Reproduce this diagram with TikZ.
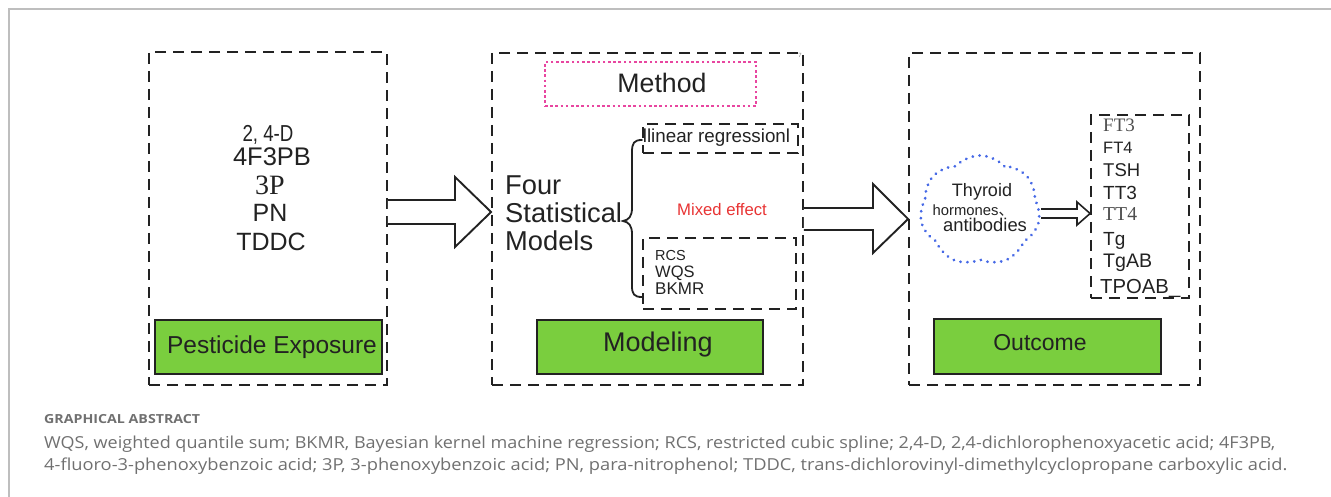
\documentclass[tikz,border=0pt]{standalone}
\usepackage{fontspec}
\setmainfont{Liberation Sans}
\newfontfamily\serifb{Liberation Serif}
\newfontfamily\capfont{Open Sans}
\newfontfamily\cjk{Noto Sans CJK SC}
\usetikzlibrary{shapes.symbols}
\definecolor{gbox}{RGB}{122,206,62}
\definecolor{dk}{RGB}{34,34,34}
\definecolor{pinkdot}{RGB}{232,70,160}
\definecolor{bluedot}{RGB}{70,105,230}
\definecolor{redtxt}{RGB}{232,52,52}
\definecolor{captxt}{RGB}{112,112,112}
\definecolor{framegray}{RGB}{190,190,190}
\newcommand{\fs}[1]{\fontsize{#1}{#1}\selectfont}
\begin{document}
\begin{tikzpicture}[x=1pt,y=-1pt,
  dbox/.style={draw=dk,line width=1.8pt,dash pattern=on 11pt off 7pt,inner sep=0pt},
  gbx/.style={draw=dk,fill=gbox,line width=1.6pt,inner sep=0pt},
  txt/.style={inner sep=0pt,text=dk},
  blk/.style={draw=dk,line width=1.9pt,fill=white,line join=miter},
  captext/.style={inner sep=0pt,text=captxt,anchor=base west}]
\useasboundingbox (0,0) rectangle (1331,497);
% outer frame
\draw[framegray,line width=1.5pt] (9,497) -- (9,9) -- (1331,9);
% ---- left panel
\node[dbox,minimum width=238pt,minimum height=333pt] (left) at (268,218.5) {};
\node[gbx,minimum width=227pt,minimum height=54pt] (pest) at (268.5,347) {};
\node[txt] (pestt) at (272,347) {\fs{24.5}Pesticide Exposure};
\node[txt] (d24) at (268,135) {\scalebox{0.85}[1.05]{\fs{22}2, 4-D}};
\node[txt] (f3pb) at (272,157) {\fs{25.5}4F3PB};
\node[txt] (p3) at (270,185) {\serifb\fs{28}3P};
\node[txt] (pn) at (270,213) {\fs{25}PN};
\node[txt] (tddc) at (271,242) {\fs{25}TDDC};
% ---- middle panel
\node[dbox,minimum width=311pt,minimum height=332pt] (mid) at (647.5,219) {};
\node[draw=pinkdot,line width=2.8pt,dash pattern=on 2.6pt off 2.6pt,minimum width=211pt,minimum height=44pt,inner sep=0pt] (meth) at (650.5,84) {};
\node[txt] (metht) at (662,83) {\fs{26.7}Method};
\node[txt,anchor=west,align=left,font=\fontsize{27.3}{28}\selectfont] (four) at (505,213) {Four\\Statistical\\Models};
\node[dbox,minimum width=155pt,minimum height=29pt] (lin) at (720.5,138.5) {};
\node[txt] (lint) at (716.5,138) {\fs{18.8}llinear regressionl};
\node[inner sep=0pt,text=redtxt] (mix) at (722,210) {\fs{16.7}Mixed effect};
\node[dbox,minimum width=153pt,minimum height=71pt] (rcs) at (719.5,273.5) {};
\node[txt,anchor=west] (rcst) at (655,256) {\fs{14.5}RCS};
\node[txt,anchor=west] (wqst) at (655,273) {\fs{16.5}WQS};
\node[txt,anchor=west] (bkmrt) at (655,289) {\fs{17}BKMR};
\node[gbx,minimum width=226pt,minimum height=54pt] (model) at (650,347) {};
\node[txt] (modelt) at (658,345) {\fs{27}Modeling};
\node[inner sep=0pt,text=gray] (seven) at (800,55) {\fs{6}7};
% brace
\draw[dk,line width=1.8pt,line cap=round] (642,140) .. controls (634,140) and (632,143) .. (632,152)
  -- (632,208) .. controls (632,216) and (629,220) .. (623,221)
  .. controls (629,222) and (632,226) .. (632,234)
  -- (632,286) .. controls (632,294) and (634,297) .. (642,297);
% ---- right panel
\node[dbox,minimum width=291pt,minimum height=332pt] (right) at (1054.5,219) {};
\node[cloud,cloud puffs=7,cloud puff arc=95,aspect=1.05,draw=bluedot,line width=3pt,line cap=round,dash pattern=on 0.1pt off 6.8pt,minimum width=120pt,minimum height=110pt,inner sep=0pt] (cloud) at (980,210.5) {};
\node[txt] (thy) at (982,192) {\fs{18}Thyroid};
\node[txt] (horm) at (973,211) {\fs{14.8}hormones{\cjk 、}};
\node[txt] (anti) at (985,225) {\fs{18.4}antibodies};
\node[dbox,minimum width=98pt,minimum height=183pt] (list) at (1140,206.5) {};
\node[txt,anchor=west,text=dk!80] (ft3) at (1103,125) {\serifb\fs{19}FT3};
\node[txt,anchor=west] (ft4) at (1103,148) {\fs{16.5}FT4};
\node[txt,anchor=west] (tsh) at (1103,170) {\fs{18.5}TSH};
\node[txt,anchor=west] (tt3) at (1103,193) {\fs{19}TT3};
\node[txt,anchor=west,text=dk!80] (tt4) at (1103,214) {\serifb\fs{19.7}TT4};
\node[txt,anchor=west] (tg) at (1103,241) {\fs{19}Tg};
\node[txt,anchor=west] (tgab) at (1103,263) {\fs{19.6}TgAB};
\node[txt,anchor=west] (tpoab) at (1100,288) {\fs{20.3}TPOAB\_};
\node[gbx,minimum width=227pt,minimum height=55pt] (out) at (1047.5,346.5) {};
\node[txt] (outt) at (1040,343) {\fs{23}Outcome};
% ---- block arrows
\coordinate (a1s) at (left.east |- 0,212);
\coordinate (a1e) at (mid.west |- 0,212);
\draw[blk] (a1s |- 0,200) -- (455,200) -- (455,177) -- (a1e) -- (455,247) -- (455,224) -- (a1s |- 0,224);
\coordinate (a2s) at (mid.east |- 0,219);
\coordinate (a2e) at (right.west |- 0,219);
\draw[blk] (a2s |- 0,208) -- (873,208) -- (873,184) -- (a2e) -- (873,253) -- (873,230) -- (a2s |- 0,230);
\coordinate (a3s) at (1041,213.5);
\coordinate (a3e) at (list.west |- 0,213.5);
\draw[blk,line width=1.6pt] (a3s |- 0,209) -- (1077,209) -- (1077,202) -- (a3e) -- (1077,225) -- (1077,218) -- (a3s |- 0,218);
% ---- caption
\node[captext] (ga) at (44,423) {\resizebox{156pt}{\height}{\capfont\bfseries\fs{12.5}GRAPHICAL ABSTRACT}};
\node[captext] (c1) at (44,448) {\resizebox{1231pt}{\height}{\capfont\fs{16.5}WQS, weighted quantile sum; BKMR, Bayesian kernel machine regression; RCS, restricted cubic spline; 2,4-D, 2,4-dichlorophenoxyacetic acid; 4F3PB,}};
\node[captext] (c2) at (44,470) {\resizebox{1243pt}{\height}{\capfont\fs{16.5}4-fluoro-3-phenoxybenzoic acid; 3P, 3-phenoxybenzoic acid; PN, para-nitrophenol; TDDC, trans-dichlorovinyl-dimethylcyclopropane carboxylic acid.}};
\end{tikzpicture}
\end{document}
